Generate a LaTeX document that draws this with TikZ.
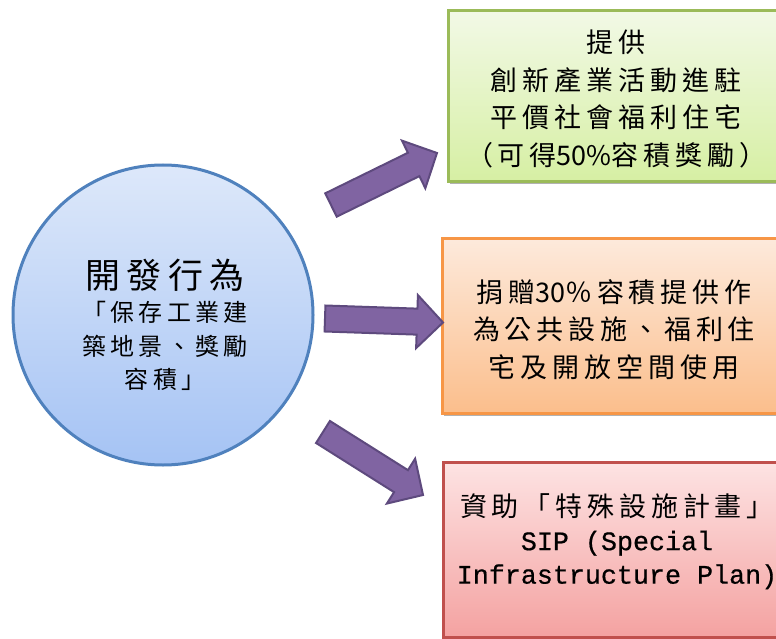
\documentclass[tikz,border=0pt]{standalone}
\usepackage{fontspec}
\usetikzlibrary{calc,shadows}
\newfontfamily\cjksp{Noto Sans CJK TC}[LetterSpace=18]
\newfontfamily\cjkn{Noto Sans CJK TC}
\newfontfamily\monofnt{Liberation Mono}[FakeBold=0.6]
\definecolor{greenline}{HTML}{9BBB59}
\definecolor{greentop}{HTML}{F2F9E6}
\definecolor{greenbot}{HTML}{D6EFA3}
\definecolor{orangeline}{HTML}{F79646}
\definecolor{orangetop}{HTML}{FDEADC}
\definecolor{orangebot}{HTML}{FBBE8C}
\definecolor{redline}{HTML}{C0504D}
\definecolor{redtop}{HTML}{FDE3E3}
\definecolor{redbot}{HTML}{F4A2A1}
\definecolor{circline}{HTML}{4F81BD}
\definecolor{circtop}{HTML}{DDE8FA}
\definecolor{circbot}{HTML}{A5C3F4}
\definecolor{arrowfill}{HTML}{8064A2}
\definecolor{arrowline}{HTML}{5E4A7E}
\tikzset{
  box/.style={rectangle, line width=3pt, inner sep=0pt,
    drop shadow={shadow xshift=1.5pt, shadow yshift=-2.5pt, opacity=0.3, fill=black}},
  boxtext/.style={align=center, inner sep=0pt, text=black,
    font=\cjksp\fontsize{27}{37.5}\selectfont},
  blockarrow/.style={fill=arrowfill, draw=arrowline, line width=2pt, line join=miter},
}
\newcommand\fatarrow[1]{%
  \coordinate (#1b) at ($(#1h)!26pt!(#1t)$);
  \draw[blockarrow] ($(#1t)!13pt!90:(#1h)$) -- ($(#1b)!13pt!90:(#1h)$)
    -- ($(#1b)!26.5pt!90:(#1h)$) -- (#1h) -- ($(#1b)!26.5pt!-90:(#1h)$)
    -- ($(#1b)!13pt!-90:(#1h)$) -- ($(#1t)!13pt!-90:(#1h)$) -- cycle;}
\begin{document}
\begin{tikzpicture}[x=1pt,y=-1pt]
\useasboundingbox (0,0) rectangle (776,639);
\clip (0,0) rectangle (776,639);
\fill[white] (0,0) rectangle (776,639);

% central circle
\node[circle, minimum size=300pt, inner sep=0pt, line width=3pt, draw=circline,
      top color=circtop, bottom color=circbot] (dev) at (163,315) {};
\node[align=center, inner sep=0pt, font=\cjksp\fontsize{24}{33.5}\selectfont]
  (devtext) at (165,325) {{\fontsize{35}{33.5}\selectfont 開發行為}\\「保存工業建\\築地景、獎勵\\容積」};

% boxes
\node[box, draw=greenline, top color=greentop, bottom color=greenbot,
      minimum width=336pt, minimum height=171pt] (g) at (616,96.5) {};
\node[boxtext] (gt) at (616,99) {提供\\創新產業活動進駐\\平價社會福利住宅\\（可得{\cjkn 50\%}容積獎勵）};

\node[box, draw=orangeline, top color=orangetop, bottom color=orangebot,
      minimum width=342pt, minimum height=175pt] (o) at (613,325.5) {};
\node[boxtext] (ot) at (614,329.5) {捐贈{\cjkn 30}％容積提供作\\為公共設施、福利住\\宅及開放空間使用};

\node[box, draw=redline, top color=redtop, bottom color=redbot,
      minimum width=340pt, minimum height=175pt] (r) at (613,549.5) {};
\node[boxtext, font=\cjksp\fontsize{27}{33.5}\selectfont] (rt) at (617,541.5)
  {資助「特殊設施計畫」\\{\monofnt\fontsize{26.7}{33.5}\selectfont SIP (Special\hspace*{22pt}}\\{\monofnt\fontsize{26.7}{33.5}\selectfont Infrastructure Plan)}};

% arrows
\coordinate (a1t) at (331,205);
\coordinate (a1h) at (437,153);
\coordinate (a2t) at (325,318.5);
\coordinate (a2h) at (443,322.5);
\coordinate (a3t) at (323,432);
\coordinate (a3h) at (423,495);
\fatarrow{a1}
\fatarrow{a2}
\fatarrow{a3}
\end{tikzpicture}
\end{document}
